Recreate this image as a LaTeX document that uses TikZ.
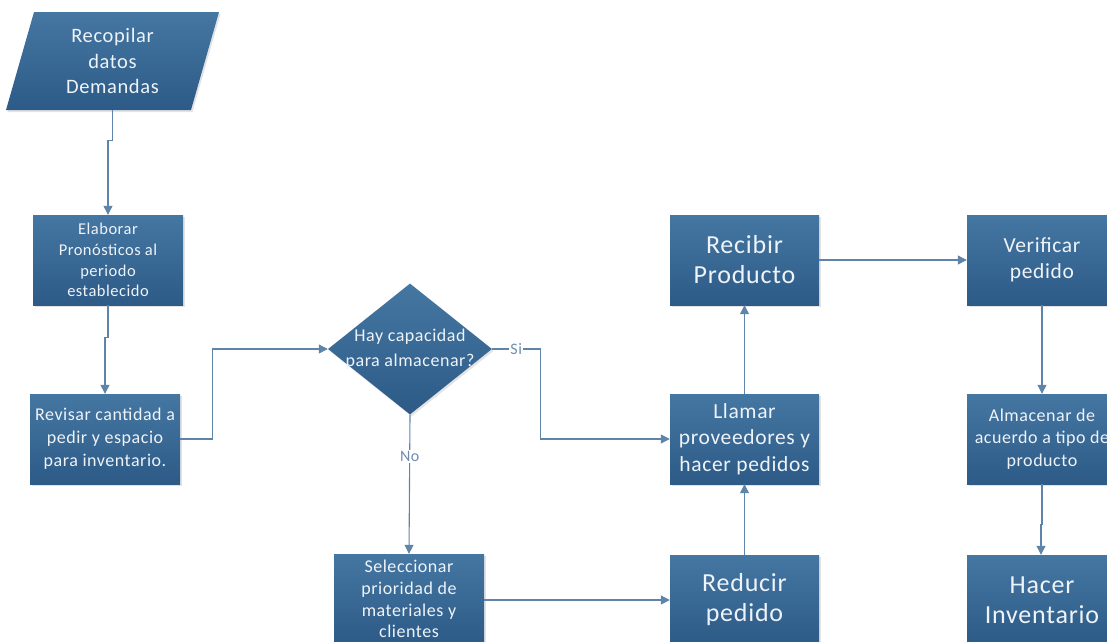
\documentclass[tikz,border=0pt]{standalone}
\usepackage{fontspec}
\setmainfont{Carlito}[LetterSpace=3]
\usetikzlibrary{arrows.meta,shapes.geometric,shadows}
\definecolor{boxtop}{HTML}{4577A3}
\definecolor{boxbot}{HTML}{2D5A86}
\definecolor{linec}{HTML}{5F84AA}
\definecolor{txt}{HTML}{EEF3F8}
\definecolor{lblc}{HTML}{6F8DAF}
\tikzset{
  base/.style={top color=boxtop,bottom color=boxbot,draw=none,text=txt,align=center,inner sep=0pt,
    drop shadow={shadow xshift=1.5pt,shadow yshift=-2pt,opacity=0.22}},
  stepbox/.style={base,rectangle,minimum width=150pt,minimum height=90pt},
  fs/.style={font=\fontsize{16.5pt}{20.7pt}\selectfont},
  fm/.style={font=\fontsize{18pt}{22.5pt}\selectfont},
  fl/.style={font=\fontsize{21.5pt}{26.5pt}\selectfont},
  fx/.style={font=\fontsize{26pt}{30pt}\selectfont},
  conn/.style={draw=linec,line width=1.1pt,-{Triangle[length=9pt,width=9pt]}},
  lbl/.style={fill=white,text=lblc,inner sep=1.5pt,font=\fontsize{16pt}{18pt}\selectfont}
}
\begin{document}
\begin{tikzpicture}[x=1pt,y=-1pt]
\useasboundingbox (0,0) rectangle (1107,641);
\clip (0,0) rectangle (1107,641);
\node[base,trapezium,trapezium left angle=66.8,trapezium right angle=113.2,
  trapezium stretches body,minimum width=213pt,minimum height=98pt,
  font=\fontsize{20.5pt}{25.5pt}\selectfont] (rec) at (112.5,61) {Recopilar\\datos\\Demandas};
\node[stepbox,fs] (elab) at (108,260) {Elaborar\\Pronósticos al\\periodo\\establecido};
\node[stepbox,fm,font=\fontsize{18pt}{23pt}\selectfont] (rev) at (105,439) {Revisar cantidad a\\pedir y espacio\\para inventario.};
\node[base,diamond,minimum width=164pt,minimum height=131pt,
  label={[text=txt,align=center,font=\fontsize{18pt}{25pt}\selectfont]center:Hay capacidad\\para almacenar?}] (dia) at (410,349) {};
\node[stepbox,fm,font=\fontsize{18pt}{21.8pt}\selectfont] (sel) at (409,599) {Seleccionar\\prioridad de\\materiales y\\clientes};
\node[stepbox,fx,minimum width=149pt] (red) at (744.5,600) {Reducir\\pedido};
\node[stepbox,fl,minimum width=149pt] (lla) at (744.5,439) {Llamar\\proveedores y\\hacer pedidos};
\node[stepbox,fx,minimum width=149pt] (reci) at (744.5,260) {Recibir\\Producto};
\node[stepbox,fl] (ver) at (1042,260) {Verificar\\pedido};
\node[stepbox,fm] (alm) at (1042,439) {Almacenar de\\acuerdo a tipo de\\producto};
\node[stepbox,fx] (hac) at (1042,600) {Hacer\\Inventario};

\draw[conn] (rec.south) -- ++(0,30) -| (elab.north);
\draw[conn] (elab.south) -- ++(0,32) -| (rev.north);
\draw[conn] (rev.east) -- ++(32,0) |- (dia.west);
\draw[conn] (dia.east) -- node[lbl]{Si} ++(48,0) |- (lla.west);
\draw[conn] (dia.south) -- node[lbl,pos=0.3]{No} (sel.north);
\draw[conn] (sel.east |- red.west) -- (red.west);
\draw[conn] (red.north) -- (lla.south);
\draw[conn] (lla.north) -- (reci.south);
\draw[conn] (reci.east) -- (ver.west);
\draw[conn] (ver.south) -- (alm.north);
\draw[conn] (alm.south) -- ++(0,40) -| ([xshift=-1pt]hac.north);
\end{tikzpicture}
\end{document}
